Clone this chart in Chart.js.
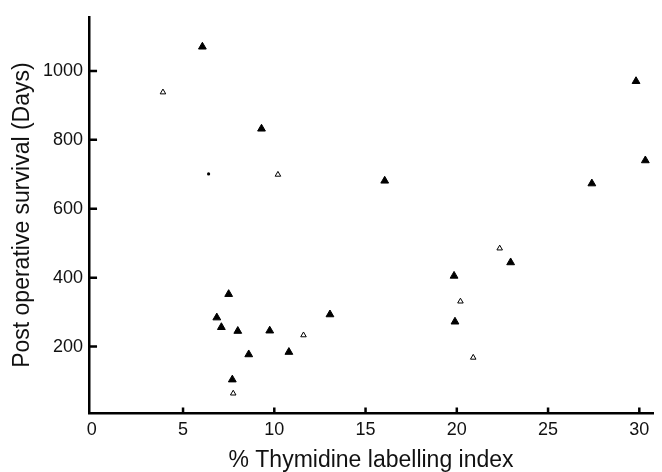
<!DOCTYPE html>
<html>
<head>
<meta charset="utf-8">
<script src="https://cdn.jsdelivr.net/npm/chart.js@4.4.0/dist/chart.umd.min.js"></script>
<style>
  html, body { margin: 0; padding: 0; background: #fff; }
  #wrap { width: 662px; height: 472px; }
</style>
</head>
<body>
<div id="wrap"><canvas id="myChart1"></canvas></div>
<script>
// labelling index (%) and survival (days)
var filledX = [6.06, 9.3, 29.82, 30.33, 27.4, 16.05, 7.5, 6.85, 7.1, 8.0, 9.75, 8.6, 10.8, 7.7, 13.05, 19.85, 19.9, 22.95];
var filledY = [1070, 832, 970, 740, 673, 681, 352, 284, 256, 245, 246, 177, 184, 104, 293, 405, 272, 444];
var openX = [3.9, 10.2, 11.6, 7.75, 22.35, 20.2, 20.9];
var openY = [938, 699, 233, 64, 485, 331, 168];
var dotX = [6.4];
var dotY = [701];
var xTicks = [0, 5, 10, 15, 20, 25, 30];
var yTicks = [200, 400, 600, 800, 1000];

function pts(xs, ys) {
	var out = [];
	for (var i = 0; i < xs.length; i++) out.push({x: xs[i], y: ys[i]});
	return out;
}

// tick marks point inward, into the plot
var innerTicks = {
	id: 'innerTicks',
	afterDraw: function(chart) {
		var c = chart.ctx, xs = chart.scales.x, ys = chart.scales.y;
		var area = chart.chartArea;
		c.save();
		c.strokeStyle = '#000';
		c.lineWidth = 2.5;
		c.beginPath();
		xTicks.forEach(function(v) {
			if (v === 0) return;
			var px = xs.getPixelForValue(v);
			c.moveTo(px, area.bottom);
			c.lineTo(px, area.bottom - 6);
		});
		yTicks.forEach(function(v) {
			var py = ys.getPixelForValue(v);
			c.moveTo(area.left, py);
			c.lineTo(area.left + 8, py);
		});
		c.stroke();
		c.restore();
	}
};

window.onload = function() {
	var font = "'Liberation Sans', Arial, Helvetica, sans-serif";
	var ctx = document.getElementById("myChart1").getContext("2d");
	window.myScatter = new Chart(ctx, {
		type: 'scatter',
		data: {
			datasets: [{
				label: 'filled',
				data: pts(filledX, filledY),
				pointStyle: 'triangle',
				pointRadius: 4.5,
				backgroundColor: '#000',
				borderColor: '#000',
				borderWidth: 1
			}, {
				label: 'open',
				data: pts(openX, openY),
				pointStyle: 'triangle',
				pointRadius: 3.2,
				backgroundColor: '#fff',
				borderColor: '#000',
				borderWidth: 1
			}, {
				label: 'dot',
				data: pts(dotX, dotY),
				pointStyle: 'circle',
				pointRadius: 1.6,
				backgroundColor: '#000',
				borderColor: '#000',
				borderWidth: 0
			}]
		},
		plugins: [innerTicks],
		options: {
			responsive: true,
			maintainAspectRatio: false,
			animation: false,
			layout: { padding: { top: 15, right: 9, left: 0, bottom: 0 } },
			plugins: { legend: { display: false }, tooltip: { enabled: false } },
			scales: {
				x: {
					type: 'linear',
					min: -0.15,
					max: 30.75,
					afterBuildTicks: function(scale) {
						scale.ticks = xTicks.map(function(v) { return {value: v}; });
					},
					border: { display: true, color: '#000', width: 2.5 },
					grid: { drawOnChartArea: false, drawTicks: false },
					ticks: {
						color: '#111',
						padding: 6,
						font: { family: font, size: 18 }
					},
					title: {
						display: true,
						text: '% Thymidine labelling index',
						color: '#111',
						font: { family: font, size: 23, lineHeight: 1 },
						padding: { top: 2, bottom: 0 }
					}
				},
				y: {
					type: 'linear',
					min: 6,
					max: 1157,
					afterBuildTicks: function(scale) {
						scale.ticks = yTicks.map(function(v) { return {value: v}; });
					},
					border: { display: true, color: '#000', width: 2.5 },
					grid: { drawOnChartArea: false, drawTicks: false },
					ticks: {
						color: '#111',
						padding: 6,
						font: { family: font, size: 18 },
						callback: function(v) { return String(v); }
					},
					title: {
						display: true,
						text: 'Post operative survival (Days)',
						color: '#111',
						font: { family: font, size: 23, lineHeight: 1 },
						padding: { top: 11, bottom: 3 }
					}
				}
			}
		}
	});
};
</script>
</body>
</html>
